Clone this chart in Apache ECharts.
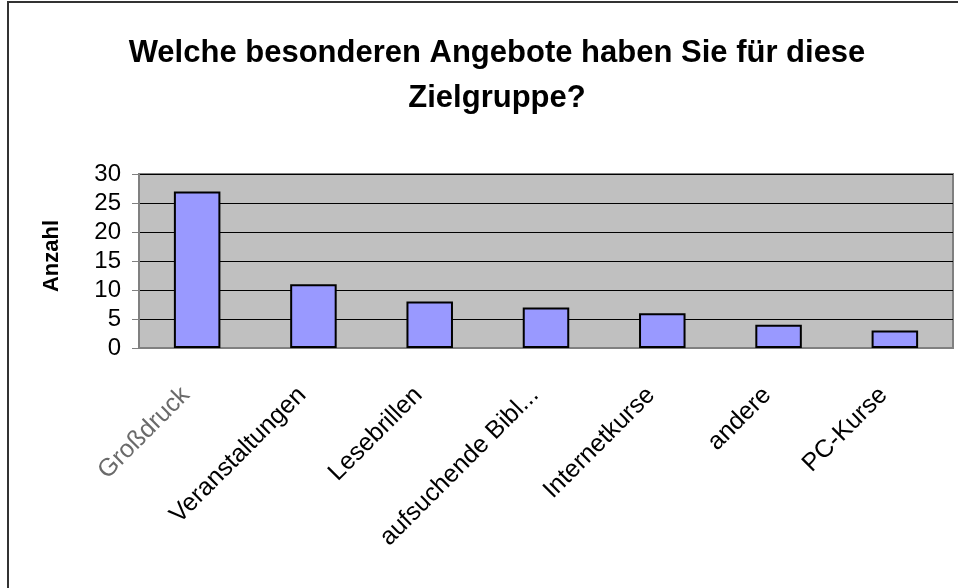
<!DOCTYPE html>
<html>
<head>
<meta charset="utf-8">
<script src="https://cdn.jsdelivr.net/npm/echarts@6/dist/echarts.min.js"></script>
<style>
    html, body { margin: 0; padding: 0; background: #fff; }
    #chart { width: 958px; height: 588px; }
</style>
</head>
<body>
<div id="chart"></div>
<script>
// Werte aus der Umfrage
const categories = ['Großdruck', 'Veranstaltungen', 'Lesebrillen', 'aufsuchende Bibl...', 'Internetkurse', 'andere', 'PC-Kurse'];
const values = [27, 11, 8, 7, 6, 4, 3];
const yTicks = { min: 0, max: 30, interval: 5 };

const font = '"Liberation Sans", Arial, sans-serif';
let chart = echarts.init(document.getElementById('chart'));

chart.setOption({
    animation: false,
    textStyle: { fontFamily: font },
    title: {
        text: 'Welche besonderen Angebote haben Sie für diese\nZielgruppe?',
        left: 492,
        top: 26,
        textAlign: 'center',
        textStyle: {
            fontFamily: font,
            fontSize: 31,
            fontWeight: 'bold',
            color: '#000',
            lineHeight: 45
        }
    },
    grid: {
        left: 139,
        right: 5,
        top: 174,
        bottom: 240,
        show: true,
        backgroundColor: '#c0c0c0',
        borderColor: '#808080',
        borderWidth: 2
    },
    xAxis: {
        type: 'category',
        data: categories,
        axisLine: { lineStyle: { color: '#808080', width: 1 } },
        axisTick: { length: 7, lineStyle: { color: '#808080' } },
        axisLabel: {
            interval: 0,
            rotate: 45,
            margin: 32,
            padding: [0, 16, 0, 0],
            fontSize: 25,
            color: '#000',
            formatter: (v, i) => i === 0 ? '{g|' + v + '}' : v,
            rich: {
                // erstes Label ist im Original blass/ausgefranst
                g: {
                    fontSize: 25,
                    color: '#6a6a6a'
                }
            }
        }
    },
    yAxis: {
        type: 'value',
        min: yTicks.min,
        max: yTicks.max,
        interval: yTicks.interval,
        name: 'Anzahl',
        nameLocation: 'middle',
        nameGap: 76,
        nameTextStyle: { fontSize: 22, fontWeight: 'bold', color: '#000', padding: [0, 0, 0, 10] },
        axisLine: { show: true, lineStyle: { color: '#808080' } },
        axisTick: { show: true, length: 7, lineStyle: { color: '#808080' } },
        axisLabel: { fontSize: 24, color: '#000', margin: 18 },
        splitLine: { lineStyle: { color: '#000', width: 1 } }
    },
    series: [{
        type: 'bar',
        data: values,
        barCategoryGap: '60%',
        itemStyle: {
            color: '#9999ff',
            borderColor: '#000',
            borderWidth: 2
        }
    }],
    graphic: [{
        type: 'rect',
        shape: { x: 8, y: 2, width: 2000, height: 2000 },
        style: { fill: 'none', stroke: '#333', lineWidth: 2 },
        silent: true
    }]
});
</script>
</body>
</html>
